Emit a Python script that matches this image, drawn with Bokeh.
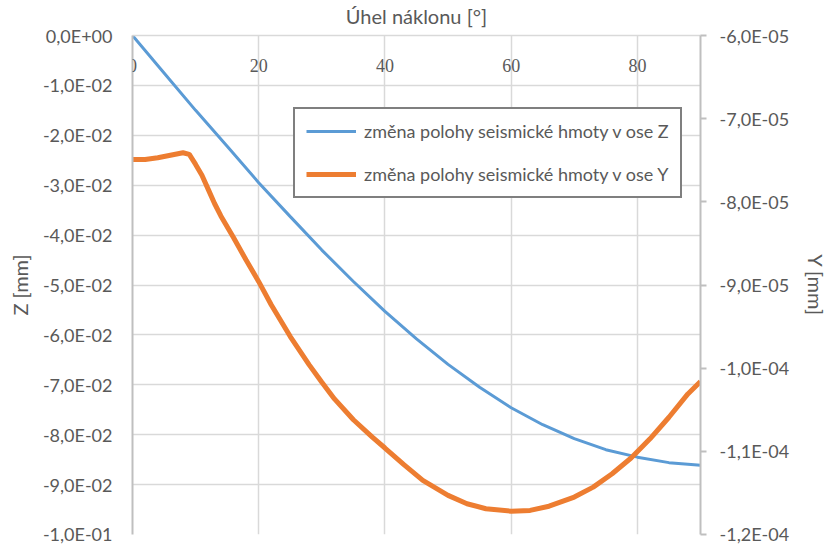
from bokeh.plotting import figure
from bokeh.models import (Range1d, LinearAxis, FixedTicker, CustomJSTickFormatter,
                          ColumnDataSource, LabelSet, Legend, LegendItem)
from bokeh.embed import file_html
from bokeh.resources import INLINE

# ---- data ----
angle_z = [0, 5, 10, 15, 20, 25, 30, 35, 40, 45, 50, 55, 60, 65, 70, 75, 80, 85, 90]
z_mm = [0, -0.0075, -0.0150, -0.0222, -0.0295, -0.0363, -0.0430, -0.0493, -0.0553,
        -0.0608, -0.0659, -0.0705, -0.0746, -0.0780, -0.0808, -0.0830, -0.0845,
        -0.0856, -0.0861]

angle_y = [0, 2, 4, 6, 8, 9, 10, 11, 12, 13, 14, 16, 18, 20, 22, 25, 28, 30, 32, 35,
           38, 40, 43, 46, 50, 53, 56, 60, 63, 66, 70, 73, 76, 79, 82, 85, 88, 90]
y_mm_e5 = [-7.49, -7.49, -7.47, -7.44, -7.41, -7.43, -7.55, -7.68, -7.85, -8.02,
           -8.17, -8.43, -8.70, -8.96, -9.24, -9.62, -9.96, -10.17, -10.37, -10.62,
           -10.83, -10.96, -11.16, -11.35, -11.53, -11.63, -11.69, -11.72, -11.71,
           -11.66, -11.55, -11.43, -11.27, -11.08, -10.85, -10.59, -10.31, -10.16]
y_mm = [v * 1e-5 for v in y_mm_e5]

x_ticks = [0, 20, 40, 60, 80]
x_tick_labels = ["0", "20", "40", "60", "80"]
z_ticks = [0, -0.01, -0.02, -0.03, -0.04, -0.05, -0.06, -0.07, -0.08, -0.09, -0.1]
z_tick_labels = ["0,0E+00", "-1,0E-02", "-2,0E-02", "-3,0E-02", "-4,0E-02", "-5,0E-02",
                 "-6,0E-02", "-7,0E-02", "-8,0E-02", "-9,0E-02", "-1,0E-01"]
y_ticks = [-6e-5, -7e-5, -8e-5, -9e-5, -1.0e-4, -1.1e-4, -1.2e-4]
y_tick_labels = ["-6,0E-05", "-7,0E-05", "-8,0E-05", "-9,0E-05", "-1,0E-04",
                 "-1,1E-04", "-1,2E-04"]

label_z = "změna polohy seismické hmoty v ose Z"
label_y = "změna polohy seismické hmoty v ose Y"

FONT = "Lato"
TXT = "#595959"
FS = "18px"
TS = "20px"

p = figure(frame_width=568, frame_height=499, output_backend="svg", toolbar_location=None,
           x_range=Range1d(0, 90), y_range=Range1d(-0.1, 0),
           x_axis_location="above", min_border_left=132, min_border_top=31,
           min_border_bottom=10, min_border_right=10)
p.outline_line_color = None
p.background_fill_color = "white"
p.border_fill_color = "white"
p.extra_y_ranges = {"y2": Range1d(-1.2e-4, -6e-5)}

fmt_code = """
let best = 0;
for (let i = 0; i < tk.length; i++) {
  if (Math.abs(tk[i] - tick) < Math.abs(tk[best] - tick)) best = i;
}
return lb[best];
"""

# top x axis: title only (its tick labels are drawn inside the frame below)
xa = p.xaxis[0]
xa.ticker = FixedTicker(ticks=[])
xa.axis_label = "Úhel náklonu [°]"
xa.axis_label_text_font = FONT
xa.axis_label_text_font_size = TS
xa.axis_label_text_font_style = "normal"
xa.axis_label_text_color = TXT
xa.axis_label_standoff = 8
xa.major_label_standoff = 0
xa.major_tick_out = 0
xa.major_tick_in = 0
xa.minor_tick_out = 0
xa.minor_tick_in = 0
xa.axis_line_color = "#d9d9d9"
xa.axis_line_width = 1.5

# left axis
ya = p.yaxis[0]
ya.ticker = FixedTicker(ticks=z_ticks)
ya.formatter = CustomJSTickFormatter(args=dict(tk=z_ticks, lb=z_tick_labels), code=fmt_code)
ya.axis_label = "Z [mm]"
ya.axis_label_text_font = FONT
ya.axis_label_text_font_size = TS
ya.axis_label_text_font_style = "normal"
ya.axis_label_text_color = TXT
ya.axis_label_standoff = 8
ya.major_label_text_font = FONT
ya.major_label_text_font_size = FS
ya.major_label_text_color = TXT
ya.major_label_standoff = 20
ya.major_tick_out = 0
ya.major_tick_in = 0
ya.minor_tick_out = 0
ya.minor_tick_in = 0
ya.axis_line_color = "#bfbfbf"
ya.axis_line_width = 2

# right axis
ra = LinearAxis(y_range_name="y2", ticker=FixedTicker(ticks=y_ticks),
                formatter=CustomJSTickFormatter(args=dict(tk=y_ticks, lb=y_tick_labels), code=fmt_code))
ra.axis_label = "Y [mm]"
ra.axis_label_text_font = FONT
ra.axis_label_text_font_size = TS
ra.axis_label_text_font_style = "normal"
ra.axis_label_text_color = TXT
ra.axis_label_standoff = 12
ra.major_label_text_font = FONT
ra.major_label_text_font_size = FS
ra.major_label_text_color = TXT
ra.major_label_standoff = 13
ra.major_tick_out = 6
ra.major_tick_in = 0
ra.minor_tick_out = 0
ra.minor_tick_in = 0
ra.major_tick_line_color = "#bfbfbf"
ra.major_tick_line_width = 2
ra.axis_line_color = "#bfbfbf"
ra.axis_line_width = 2
p.add_layout(ra, "right")

p.xgrid.grid_line_color = "#d9d9d9"
p.xgrid.grid_line_width = 1.5
p.xgrid.ticker = FixedTicker(ticks=x_ticks)
p.ygrid.grid_line_color = "#d9d9d9"
p.ygrid.grid_line_width = 1.5
p.ygrid.ticker = FixedTicker(ticks=z_ticks)

# x tick labels inside the frame, under the top edge
src_xt = ColumnDataSource(dict(x=x_ticks, y=[0] * len(x_ticks), t=x_tick_labels))
p.add_layout(LabelSet(x="x", y="y", text="t", source=src_xt, y_offset=-30,
                      text_align="center", text_baseline="middle",
                      text_font=FONT, text_font_size=FS, text_color=TXT))

r_z = p.line(angle_z, z_mm, line_color="#5B9BD5", line_width=3)
r_y = p.line(angle_y, y_mm, line_color="#ED7D31", line_width=5, y_range_name="y2")

legend = Legend(items=[LegendItem(label=label_z, renderers=[r_z]),
                       LegendItem(label=label_y, renderers=[r_y])],
                location=(161, 336), orientation="vertical",
                border_line_color="black", border_line_width=2,
                background_fill_color="white", background_fill_alpha=1,
                label_text_font=FONT, label_text_font_size=FS, label_text_color=TXT,
                glyph_width=50, glyph_height=20, label_standoff=8, spacing=21,
                padding=11, margin=0)
p.add_layout(legend, "center")

open("out.html", "w").write(file_html(p, INLINE))
